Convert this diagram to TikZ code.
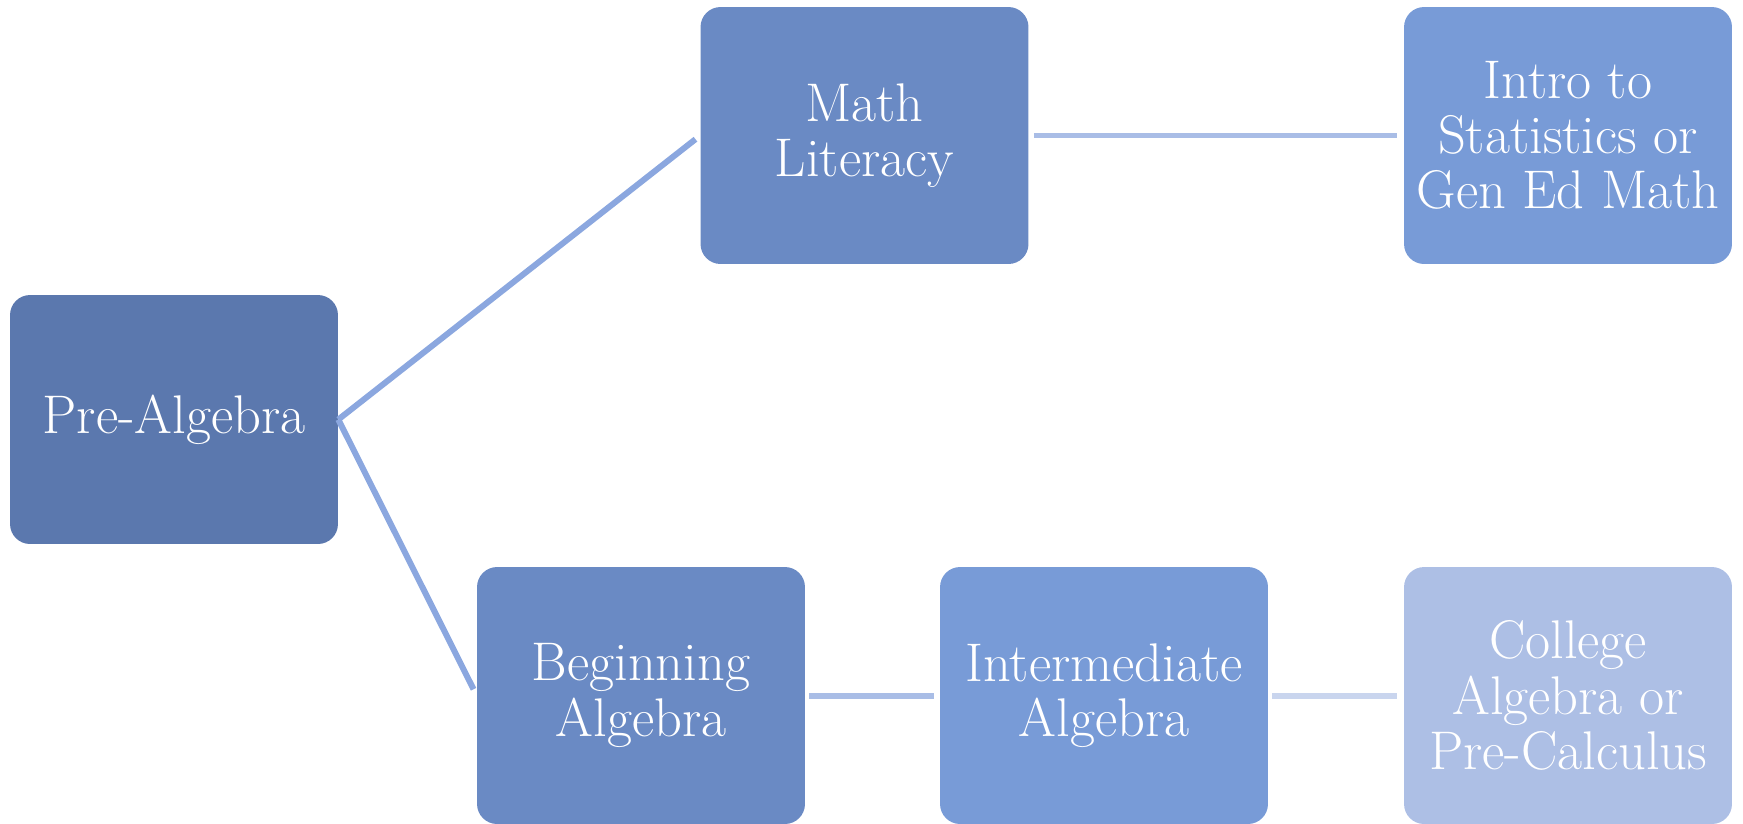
\documentclass[tikz,border=0pt]{standalone}
\usepackage{tikz}
\usetikzlibrary{positioning}

\definecolor{boxdark}{HTML}{5B78AE}
\definecolor{boxmid}{HTML}{6A8AC4}
\definecolor{boxlight}{HTML}{789BD7}
\definecolor{boxpale}{HTML}{ADBFE5}
\definecolor{linkdark}{HTML}{8BA7DF}
\definecolor{linkmid}{HTML}{A9BDE6}
\definecolor{linkpale}{HTML}{C9D5EE}

\tikzset{
  course/.style={rounded corners=0.4cm, text=white, align=center,
    minimum width=6.56cm, minimum height=5.14cm, inner sep=2pt,
    font=\fontsize{31}{31.4}\selectfont},
  link/.style={line width=3.4pt}
}

\begin{document}
\begin{tikzpicture}[x=0.02cm,y=-0.02cm]

% Frame
\useasboundingbox (0,0) rectangle (1743,823);

% Courses
\node[course, fill=boxdark, minimum height=4.98cm] (pre) at (174,419.5) {Pre-Algebra};
\node[course, fill=boxmid] (lit) at (864.5,135.5) {Math\\Literacy};
\node[course, fill=boxlight] (stat) at (1568,135.5) {Intro to\\Statistics or\\Gen Ed Math};
\node[course, fill=boxmid, minimum height=5.14cm] (beg) at (641,695.5) {Beginning\\Algebra};
\node[course, fill=boxlight, minimum height=5.14cm] (inter) at (1104,695.5) {Intermediate\\Algebra};
\node[course, fill=boxpale, minimum height=5.14cm] (coll) at (1568,695.5) {College\\Algebra or\\Pre-Calculus};

% Connections
\draw[link, linkdark, shorten >=0.12cm] (pre.east) -- (lit.west);
\draw[link, linkdark, shorten >=0.14cm] (pre.east) -- (beg.west);
\draw[link, linkmid, shorten <=0.1cm, shorten >=0.14cm] (lit.east) -- (stat.west);
\draw[link, linkmid, shorten <=0.08cm, shorten >=0.12cm] (beg.east) -- (inter.west);
\draw[link, linkpale, shorten <=0.08cm, shorten >=0.14cm] (inter.east) -- (coll.west);

\end{tikzpicture}
\end{document}
